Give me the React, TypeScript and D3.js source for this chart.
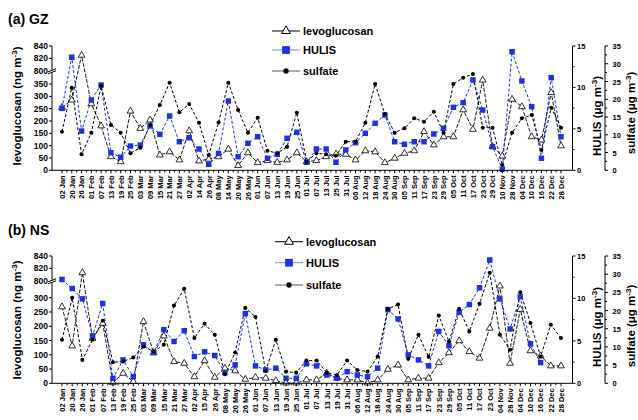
import React from 'react';
import * as d3 from 'd3';

const W = 638;
const H = 420;
const FONT = '"Liberation Sans", Arial, sans-serif';
const BLUE = '#1f2ff0';

// ---- (a) GZ ----
const gzDates = ['02 Jan','20 Jan','26 Jan','01 Feb','07 Feb','13 Feb','19 Feb','25 Feb','03 Mar','09 Mar','15 Mar','21 Mar','27 Mar',
  '02 Apr','14 Apr','26 Apr','08 May','14 May','20 May','26 May','01 Jun','07 Jun','13 Jun','19 Jun','25 Jun',
  '01 Jul','07 Jul','13 Jul','25 Jul','31 Jul','06 Aug','12 Aug','18 Aug','24 Aug','30 Aug','05 Sep','11 Sep','17 Sep','23 Sep','29 Sep',
  '05 Oct','11 Oct','17 Oct','23 Oct','29 Oct','10 Nov','28 Nov','04 Dec','10 Dec','16 Dec','22 Dec','28 Dec'];
const gzLevo = [255,285,825,270,180,55,35,240,170,204,62,75,42,160,38,45,55,86,19,71,31,39,32,42,71,35,
  39,55,66,65,42,79,75,31,49,69,79,157,103,136,136,245,166,366,96,58,288,258,136,123,315,99];
const gzHulis = [7.48,13.64,4.74,8.48,10.29,2.12,1.57,2.93,3.05,5.35,4.34,6.55,3.45,3.93,2.57,0.72,2.03,8.36,1.64,3.26,4.05,1.45,1.93,3.86,4.59,0.97,
  2.57,2.57,0.97,2.45,3.33,4.47,5.67,6.67,3.45,3.14,3.45,3.45,4.38,5.07,7.6,8.16,10.9,7.28,2.85,0.12,14.31,10.78,7.68,1.45,11.18,4.05];
const gzSulfate = [10.87,23.26,4.51,10.59,23.74,12.76,10.59,4.79,6.36,12.76,18.39,24.67,16.33,18.67,13.4,4.31,13.46,24.67,16.98,10.59,14.81,5.52,4.79,6.65,16.22,2.42,
  4.79,4.51,4.11,8.05,8.05,13.4,24.3,15.85,10.59,11.83,14.64,13.68,16.5,10.59,24.3,26.07,27.12,12,12,1.49,10.59,14.64,15.57,5.72,17.63,12];

// ---- (b) NS ----
const nsDates = ['02 Jan','20 Jan','26 Jan','01 Feb','07 Feb','13 Feb','19 Feb','25 Feb','03 Mar','09 Mar','15 Mar','21 Mar','27 Mar',
  '02 Apr','15 Apr','26 Apr','08 May','20 May','26 May','01 Jun','07 Jun','13 Jun','19 Jun','25 Jun',
  '01 Jul','07 Jul','13 Jul','19 Jul','31 Jul','06 Aug','12 Aug','18 Aug','24 Aug','30 Aug','05 Sep','11 Sep','17 Sep','23 Sep','29 Sep',
  '05 Oct','11 Oct','17 Oct','23 Oct','04 Nov','28 Nov','04 Dec','10 Dec','16 Dec','22 Dec','28 Dec'];
const nsLevo = [268,131,813,158,210,2,35,6,216,107,166,76,70,23,79,21,53,44,14,21,18,9,1,1,12,12,35,18,12,12,
  1,12,49,64,12,18,18,72,107,149,111,88,193,341,70,259,114,96,61,61];
const nsHulis = [12.24,11.17,9.95,5.6,9.4,0.59,2.76,0.78,4.54,3.63,6.32,4.93,6.2,3.15,3.71,3.27,1.26,2.17,8.21,2.05,
  1.58,1.78,0.59,0.59,2.29,2.05,0.98,0.59,1.37,0.98,0.78,1.78,8.68,7.58,3.35,2.76,2.05,6.11,4.42,8.36,
  9.28,11.26,14.53,9.95,6.4,10.19,4.66,2.44,null,null];
const nsSulfate = [11.97,23.5,6.44,11.97,17.22,5.81,5.97,7.08,10.12,8.74,10.59,21.37,25.99,12.44,16.39,13.35,2.49,8.46,20.73,18.25,
  3.4,11.97,3.21,2.93,6.25,6.25,2.93,2.29,6.25,3.68,3.21,7.35,20.46,21.65,6.72,13.35,7.27,18.61,11.5,20.46,
  14.27,21.84,30.41,13.35,9.21,25.05,16.59,7.35,16.12,12.44];

const gzLowTicks = [0,50,100,150,200,250,300,350];
const nsLowTicks = [0,50,100,150,200,250,300];
const highTicks = [800,820,840];
const hulisTicks = [0,5,10,15];
const sulfateTicks = [0,5,10,15,20,25,30,35];

const xL = 52, xR = 572.5, xS = 605;

function Panel({label, dates, levo, hulis, sulfate, lowTicks, y0, yTop, yLowTick, yHigh, titleY, legX, legY, titleMid}) {
  const x = d3.scalePoint().domain(dates).range([62, 561]);
  const lowMax = lowTicks[lowTicks.length - 1];
  const low = d3.scaleLinear().domain([0, lowMax]).range([y0, yLowTick]);
  const high = d3.scaleLinear().domain([800, 840]).range([yHigh, yTop]);
  const yLev = (v) => (v >= 800 ? high(v) : low(v));
  const yHul = d3.scaleLinear().domain([0, 15]).range([y0, yTop]);
  const ySul = d3.scaleLinear().domain([0, 35]).range([y0, yTop]);
  const yBreak = yHigh + 0.6;

  const lineOf = (vals, ys) => d3.line()
    .defined((d) => d != null)
    .x((d, i) => x(dates[i]))
    .y((d) => ys(d))(vals);

  const tri = d3.symbol(d3.symbolTriangle, 20)();
  const sq = d3.symbol(d3.symbolSquare, 30)();
  const dot = d3.symbol(d3.symbolCircle, 13)();
  const triL = d3.symbol(d3.symbolTriangle, 34)();
  const sqL = d3.symbol(d3.symbolSquare, 60)();
  const dotL = d3.symbol(d3.symbolCircle, 22)();

  const step = x.step();

  return (
    <g>
      <text x={8} y={titleY} fontSize={14} fontWeight="bold">{label}</text>

      {/* legend */}
      <g fontSize={11} fontWeight="bold">
        <line x1={legX - 14} x2={legX + 14} y1={legY[0]} y2={legY[0]} stroke="#000" strokeWidth={1} />
        <path d={triL} transform={`translate(${legX},${legY[0]})`} fill="#fff" stroke="#000" strokeWidth={1} />
        <text x={legX + 17} y={legY[0] + 4}>levoglucosan</text>
        <line x1={legX - 14} x2={legX + 14} y1={legY[1]} y2={legY[1]} stroke="#7a86f5" strokeWidth={1} />
        <path d={sqL} transform={`translate(${legX},${legY[1]})`} fill={BLUE} />
        <text x={legX + 17} y={legY[1] + 4}>HULIS</text>
        <line x1={legX - 14} x2={legX + 14} y1={legY[2]} y2={legY[2]} stroke="#555" strokeWidth={1} />
        <path d={dotL} transform={`translate(${legX},${legY[2]})`} fill="#000" />
        <text x={legX + 17} y={legY[2] + 4}>sulfate</text>
      </g>

      {/* series */}
      <path d={lineOf(levo, yLev)} fill="none" stroke="#000" strokeWidth={0.9} strokeDasharray="4,1.5" />
      <path d={lineOf(hulis, yHul)} fill="none" stroke={BLUE} strokeWidth={1} strokeDasharray="3,2" />
      <path d={lineOf(sulfate, ySul)} fill="none" stroke="#000" strokeWidth={1} strokeDasharray="3,2" />
      {levo.map((v, i) => (
        <path key={'l' + i} d={tri} transform={`translate(${x(dates[i])},${yLev(v)})`} fill="#fff" stroke="#000" strokeWidth={0.8} />
      ))}
      {hulis.map((v, i) => v == null ? null : (
        <path key={'h' + i} d={sq} transform={`translate(${x(dates[i])},${yHul(v)})`} fill={BLUE} />
      ))}
      {sulfate.map((v, i) => (
        <path key={'s' + i} d={dot} transform={`translate(${x(dates[i])},${ySul(v)})`} fill="#000" />
      ))}

      {/* x axis */}
      <line x1={xL} x2={xR} y1={y0} y2={y0} stroke="#000" />
      {dates.map((d, i) => (
        <g key={'xt' + i}>
          <line x1={x(d)} x2={x(d)} y1={y0} y2={y0 + 3} stroke="#000" />
          {i < dates.length - 1 && (
            <line x1={x(d) + step / 2} x2={x(d) + step / 2} y1={y0} y2={y0 + 2} stroke="#000" />
          )}
          <text transform={`translate(${x(d) + 2.8},${y0 + 5}) rotate(-90)`} textAnchor="end" fontSize={7.5} fontWeight="bold">{d}</text>
        </g>
      ))}

      {/* left axis with break */}
      <line x1={xL} x2={xL} y1={y0} y2={yTop} stroke="#000" />
      {[...lowTicks, ...highTicks].map((t) => (
        <g key={'yl' + t}>
          <line x1={xL - 3} x2={xL} y1={yLev(t)} y2={yLev(t)} stroke="#000" />
          <text x={xL - 4} y={yLev(t) + 3} textAnchor="end" fontSize={8.5} fontWeight="bold">{t}</text>
        </g>
      ))}
      <rect x={xL - 4} y={yBreak - 1.5} width={8} height={3} fill="#fff" />
      <line x1={xL - 4} x2={xL + 4} y1={yBreak + 0.5} y2={yBreak - 2.5} stroke="#000" />
      <line x1={xL - 4} x2={xL + 4} y1={yBreak + 2.5} y2={yBreak - 0.5} stroke="#000" />
      <text transform={`translate(21,${titleMid[0]}) rotate(-90)`} textAnchor="middle" fontSize={11.5} fontWeight="bold">
        levoglucosan (ng m<tspan dy={-4} fontSize={8}>-3</tspan><tspan dy={4}>)</tspan>
      </text>

      {/* HULIS axis */}
      <line x1={xR} x2={xR} y1={y0} y2={yTop} stroke="#000" />
      {d3.range(0, 15.1, 2.5).map((t) => (
        <line key={'hm' + t} x1={xR} x2={xR + (t % 5 === 0 ? 3 : 2)} y1={yHul(t)} y2={yHul(t)} stroke="#000" />
      ))}
      {hulisTicks.map((t) => (
        <text key={'ht' + t} x={xR + 4.5} y={yHul(t) + 3} fontSize={7.5} fontWeight="bold">{t}</text>
      ))}
      <text transform={`translate(601,${titleMid[1]}) rotate(-90)`} textAnchor="middle" fontSize={11.5} fontWeight="bold">
        HULIS (μg m<tspan dy={-4} fontSize={8}>-3</tspan><tspan dy={4}>)</tspan>
      </text>

      {/* sulfate axis */}
      <line x1={xS} x2={xS} y1={y0} y2={yTop} stroke="#000" />
      {d3.range(0, 35.1, 2.5).map((t) => (
        <line key={'sm' + t} x1={xS} x2={xS + (t % 5 === 0 ? 3 : 2)} y1={ySul(t)} y2={ySul(t)} stroke="#000" />
      ))}
      {sulfateTicks.map((t) => (
        <text key={'st' + t} x={xS + 7.5} y={ySul(t) + 3} fontSize={7.5} fontWeight="bold">{t}</text>
      ))}
      <text transform={`translate(635,${titleMid[2]}) rotate(-90)`} textAnchor="middle" fontSize={11.5} fontWeight="bold">
        sulfate (μg m<tspan dy={-4} fontSize={8}>-3</tspan><tspan dy={4}>)</tspan>
      </text>
    </g>
  );
}

export default function App() {
  return (
    <svg width={W} height={H} viewBox={`0 0 ${W} ${H}`}
      style={{position: 'absolute', left: 0, top: 0, background: '#fff', fontFamily: FONT}}>
      <Panel label="(a) GZ" dates={gzDates} levo={gzLevo} hulis={gzHulis} sulfate={gzSulfate}
        lowTicks={gzLowTicks} y0={170.3} yTop={46} yLowTick={84} yHigh={70.7} titleY={24}
        legX={286} legY={[31, 50, 71]} titleMid={[106, 116, 113]} />
      <Panel label="(b) NS" dates={nsDates} levo={nsLevo} hulis={nsHulis} sulfate={nsSulfate}
        lowTicks={nsLowTicks} y0={383.3} yTop={256} yLowTick={297.7} yHigh={280.7} titleY={235}
        legX={289} legY={[241.7, 262.7, 285]} titleMid={[320, 327, 326]} />
    </svg>
  );
}
